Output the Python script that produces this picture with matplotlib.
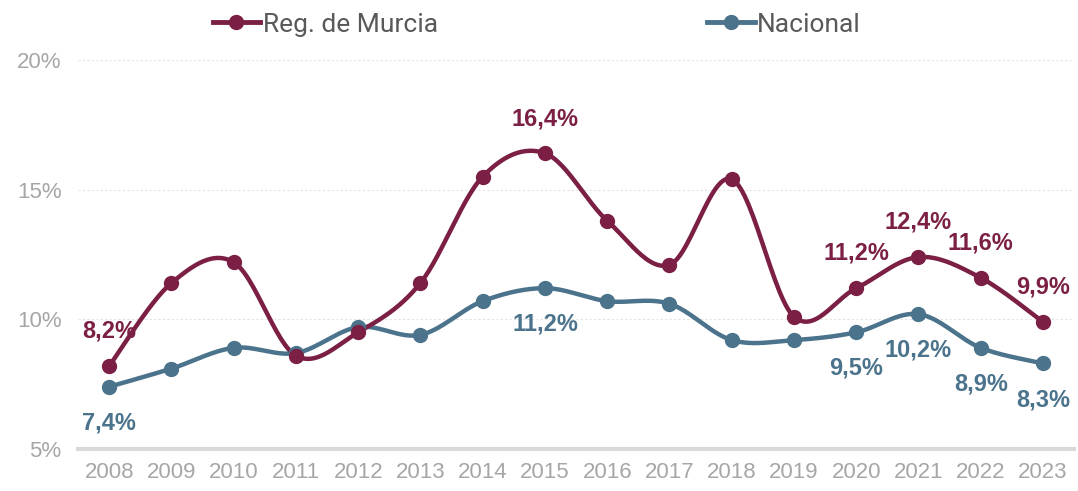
import numpy as np
import matplotlib
matplotlib.use('Agg')
import matplotlib.pyplot as plt
from matplotlib import font_manager

# datos
years = [2008, 2009, 2010, 2011, 2012, 2013, 2014, 2015,
         2016, 2017, 2018, 2019, 2020, 2021, 2022, 2023]
murcia = [8.2, 11.4, 12.2, 8.6, 9.5, 11.4, 15.5, 16.4,
          13.8, 12.1, 15.4, 10.1, 11.2, 12.4, 11.6, 9.9]
nacional = [7.4, 8.1, 8.9, 8.7, 9.7, 9.4, 10.7, 11.2,
            10.7, 10.6, 9.2, 9.2, 9.5, 10.2, 8.9, 8.3]
y_ticks = [5, 10, 15, 20]

# etiquetas mostradas
murcia_labels = [2008, 2015, 2020, 2021, 2022, 2023]
nacional_labels = [2008, 2015, 2020, 2021, 2022, 2023]

C_MUR = '#7B1F44'
C_NAC = '#4B738C'
C_GRIS = '#A6A6A6'

plt.rcParams['font.family'] = ['Liberation Sans', 'DejaVu Sans']

# fuente estrecha para la leyenda, si existe
nombres = {f.name for f in font_manager.fontManager.ttflist}
fuente_leyenda = 'Liberation Sans Narrow' if 'Liberation Sans Narrow' in nombres else 'Roboto'


def suavizar(x, y, n=30):
    """curva suave tipo Excel (bezier con puntos de control catmull-rom)"""
    x = np.asarray(x, float)
    y = np.asarray(y, float)
    px, py = [], []
    t = np.linspace(0, 1, n)
    for i in range(len(x) - 1):
        i0 = max(i - 1, 0)
        i3 = min(i + 2, len(x) - 1)
        c1x = x[i] + (x[i + 1] - x[i0]) / 6
        c1y = y[i] + (y[i + 1] - y[i0]) / 6
        c2x = x[i + 1] - (x[i3] - x[i]) / 6
        c2y = y[i + 1] - (y[i3] - y[i]) / 6
        bx = ((1 - t) ** 3 * x[i] + 3 * (1 - t) ** 2 * t * c1x
              + 3 * (1 - t) * t ** 2 * c2x + t ** 3 * x[i + 1])
        by = ((1 - t) ** 3 * y[i] + 3 * (1 - t) ** 2 * t * c1y
              + 3 * (1 - t) * t ** 2 * c2y + t ** 3 * y[i + 1])
        px.extend(bx)
        py.extend(by)
    return px, py


fig = plt.figure(figsize=(10.78, 4.91), dpi=100)
ax = fig.add_axes([0.0724, 0.0855, 0.924, 0.7925])

idx = np.arange(len(years))

for serie, color in [(nacional, C_NAC), (murcia, C_MUR)]:
    sx, sy = suavizar(idx, serie)
    ax.plot(sx, sy, color=color, linewidth=3.2, solid_capstyle='round', zorder=3)
    ax.plot(idx, serie, 'o', color=color, markersize=10, zorder=4)

# etiquetas de datos
for yr in murcia_labels:
    i = years.index(yr)
    ax.annotate(f'{murcia[i]:.1f}%'.replace('.', ','), (i, murcia[i]),
                xytext=(0, 25), textcoords='offset points', ha='center', va='center',
                fontsize=17, fontweight='bold', color=C_MUR, zorder=5)
for yr in nacional_labels:
    i = years.index(yr)
    ax.annotate(f'{nacional[i]:.1f}%'.replace('.', ','), (i, nacional[i]),
                xytext=(0, -26), textcoords='offset points', ha='center', va='center',
                fontsize=17, fontweight='bold', color=C_NAC, zorder=5)

ax.set_xlim(-0.5, len(years) - 0.5)
ax.set_ylim(5, 20)
ax.set_xticks(idx)
ax.set_xticklabels([str(y) for y in years])
ax.set_yticks(y_ticks)
ax.set_yticklabels([f'{v}%' for v in y_ticks])
ax.tick_params(axis='both', length=0, colors=C_GRIS, labelsize=16)
ax.tick_params(axis='x', pad=9)
ax.tick_params(axis='y', pad=12)

for v in y_ticks[1:]:
    ax.axhline(v, color='#E3E3E3', linewidth=0.8, linestyle=(0, (2, 2)), zorder=1)

for lado in ['top', 'right', 'left']:
    ax.spines[lado].set_visible(False)
ax.spines['bottom'].set_color('#D9D9D9')
ax.spines['bottom'].set_linewidth(3)

# leyenda
h_mur, = ax.plot([], [], '-o', color=C_MUR, linewidth=3.5, markersize=10)
h_nac, = ax.plot([], [], '-o', color=C_NAC, linewidth=3.5, markersize=10)
fig.legend([h_mur, h_nac], ['Reg. de Murcia', 'Nacional'], ncol=2,
           loc='center', bbox_to_anchor=(0.498, 0.95), frameon=False,
           prop={'family': fuente_leyenda, 'size': 19}, labelcolor='#595959',
           handlelength=1.8, handletextpad=0.1, columnspacing=10.2)

plt.savefig('out.png', dpi=100)
plt.close()
